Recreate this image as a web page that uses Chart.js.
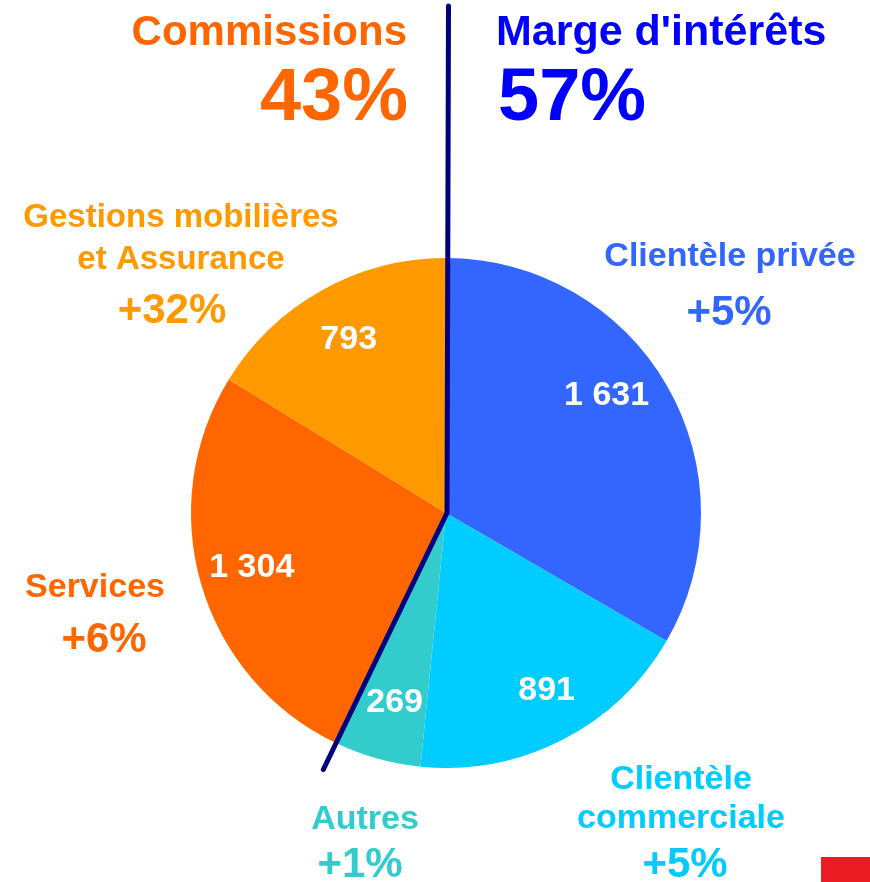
<!DOCTYPE html>
<html lang="fr">
<head>
<meta charset="utf-8">
<title>Produit net bancaire</title>
<script src="https://cdn.jsdelivr.net/npm/chart.js@4.4.1/dist/chart.umd.min.js"></script>
<style>
  html, body { margin: 0; padding: 0; background: #ffffff; }
  #wrap { width: 870px; height: 882px; }
</style>
</head>
<body>
<div id="wrap"><canvas id="pieChart" width="870" height="882"></canvas></div>
<script>
    const categories = [
      ["Clientèle privée"],
      ["Clientèle", "commerciale"],
      ["Autres"],
      ["Services"],
      ["Gestions mobilières", "et Assurance"]
    ];
    const values = [1631, 891, 269, 1304, 793];
    const growth = ["+5%", "+5%", "+1%", "+6%", "+32%"];
    const groups = ["interest", "interest", "interest", "fees", "fees"];
    const groupNames = { interest: "Marge d'intérêts", fees: "Commissions" };

    const sliceColors = ["#3366FF", "#00CCFF", "#33CCCC", "#FF6600", "#FF9900"];
    const groupColors = { interest: "#0000FF", fees: "#FF6600" };
    const FONT = '"Liberation Sans", Arial, Helvetica, sans-serif';

    // where the outside captions sit (centre x, first baseline, line gap, growth baseline, font size)
    const outerLabelLayout = [
      { x: 730, y: 266, lineGap: 0, growthX: 729, growthY: 325, size: 34 },
      { x: 681, y: 789, lineGap: 39, growthX: 685, growthY: 877, size: 34 },
      { x: 365, y: 829, lineGap: 0, growthX: 360, growthY: 877, size: 34 },
      { x: 95, y: 597, lineGap: 0, growthX: 104, growthY: 652, size: 34 },
      { x: 181, y: 227, lineGap: 42, growthX: 172, growthY: 323, size: 33 }
    ];
    const valueLabelNudge = [[-14, -19], [9, -4], [3, -7], [-1, -5], [1, 0]];

    function formatValue(value) {
      return String(value).replace(/\B(?=(\d{3})+(?!\d))/g, " ");
    }

    function drawText(ctx, text, x, y, size, color, align) {
      ctx.save();
      ctx.font = `bold ${size}px ${FONT}`;
      ctx.fillStyle = color;
      ctx.textAlign = align;
      ctx.textBaseline = "alphabetic";
      ctx.fillText(text, x, y);
      ctx.restore();
    }

    function groupShare(name) {
      const total = values.reduce((sum, v) => sum + v, 0);
      const part = values.filter((v, i) => groups[i] === name).reduce((sum, v) => sum + v, 0);
      return Math.round(part / total * 100) + "%";
    }

    const annotations = {
      id: "annotations",
      afterDatasetsDraw(chart) {
        const ctx = chart.ctx;
        const meta = chart.getDatasetMeta(0);

        // white values inside the slices
        meta.data.forEach((arc, i) => {
          const p = arc.getProps(["x", "y", "startAngle", "endAngle", "outerRadius"], true);
          const mid = (p.startAngle + p.endAngle) / 2;
          const r = p.outerRadius * 0.79;
          const lx = p.x + Math.cos(mid) * r + valueLabelNudge[i][0];
          const ly = p.y + Math.sin(mid) * r + valueLabelNudge[i][1];
          drawText(ctx, formatValue(values[i]), lx, ly + 12, 34, "#FFFFFF", "center");
        });

        // divider between the two groups
        const firstFee = meta.data[groups.indexOf("fees")];
        const d = firstFee.getProps(["x", "y", "startAngle", "outerRadius"], true);
        const len = d.outerRadius * 1.115;
        ctx.save();
        ctx.beginPath();
        ctx.moveTo(d.x + 2.5, 6);
        ctx.lineTo(d.x + 1, d.y);
        ctx.lineTo(d.x + Math.cos(d.startAngle) * len, d.y + Math.sin(d.startAngle) * len);
        ctx.strokeStyle = "#000080";
        ctx.lineWidth = 5;
        ctx.lineCap = "round";
        ctx.lineJoin = "round";
        ctx.stroke();
        ctx.restore();

        // captions outside the pie
        categories.forEach((lines, i) => {
          const pos = outerLabelLayout[i];
          lines.forEach((line, j) => {
            drawText(ctx, line, pos.x, pos.y + j * pos.lineGap, pos.size, sliceColors[i], "center");
          });
          drawText(ctx, growth[i], pos.growthX, pos.growthY, 42, sliceColors[i], "center");
        });

        // group headings
        drawText(ctx, groupNames.fees, 407, 45, 42, groupColors.fees, "right");
        drawText(ctx, groupShare("fees"), 408, 120, 74, groupColors.fees, "right");
        drawText(ctx, groupNames.interest, 496, 45, 43, groupColors.interest, "left");
        drawText(ctx, groupShare("interest"), 498, 120, 74, groupColors.interest, "left");

        // red mark in the corner
        ctx.save();
        ctx.fillStyle = "#ED1C24";
        ctx.fillRect(821, 857, 49, 25);
        ctx.restore();
      }
    };

    const pieChart = new Chart(document.getElementById("pieChart"), {
      type: "pie",
      data: {
        labels: categories,
        datasets: [
          {
            data: values,
            backgroundColor: sliceColors,
            borderWidth: 0,
            hoverOffset: 0,
            offset: 0
          }
        ]
      },
      options: {
        responsive: false,
        animation: false,
        events: [],
        layout: {
          padding: { left: 191, right: 169, top: 258, bottom: 114 }
        },
        plugins: {
          legend: { display: false },
          tooltip: { enabled: false }
        }
      },
      plugins: [annotations]
    });
</script>
</body>
</html>
